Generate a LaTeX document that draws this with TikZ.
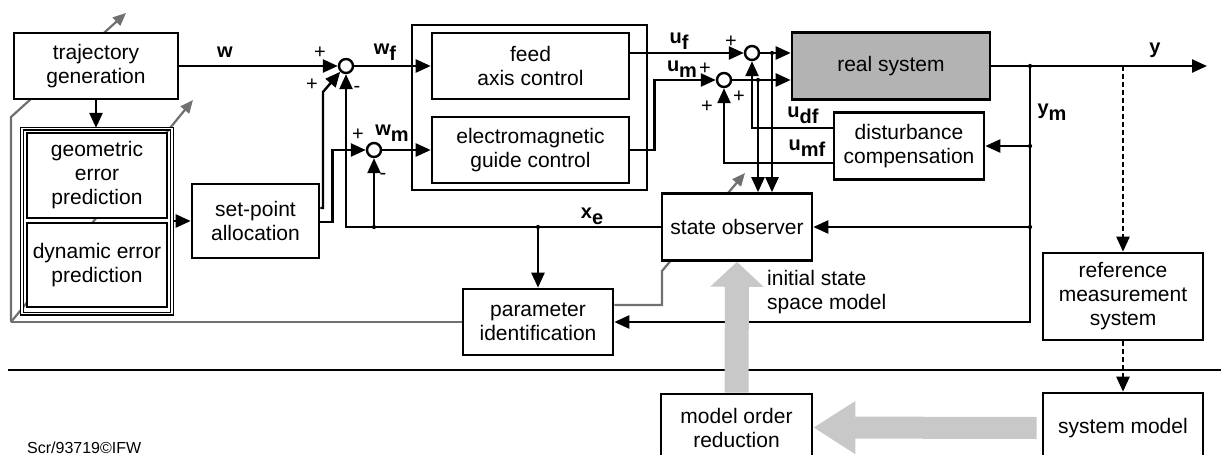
\documentclass[tikz,border=0pt]{standalone}
\usepackage{fontspec}
\setmainfont{Liberation Sans}
\usetikzlibrary{positioning,arrows.meta,calc,backgrounds}
\definecolor{realgray}{HTML}{B3B3B3}
\definecolor{linegray}{HTML}{707070}
\definecolor{biggray}{HTML}{C8C8C8}
\newcommand{\sig}[2]{\textbf{#1\raisebox{-0.3em}{#2}}}

\begin{document}
\begin{tikzpicture}[x=1pt,y=-1pt,
  blk/.style={draw,line width=2.6pt,fill=white,align=center,inner sep=2pt,font=\fontsize{21}{24}\selectfont},
  frm/.style={draw,line width=2.6pt},
  sum/.style={circle,draw,line width=2.4pt,fill=white,minimum size=14pt,inner sep=0pt},
  arr/.style={-{Triangle[length=15pt,width=13pt]},line width=2.4pt},
  dasharr/.style={arr,dash pattern=on 5pt off 3pt},
  garr/.style={-{Triangle[length=13pt,width=11pt]},line width=2.2pt,linegray},
  gline/.style={line width=2.2pt,linegray},
  bigarr/.style={biggray,line width=22pt},
  sg/.style={font=\fontsize{20}{20}\selectfont,inner sep=0pt},
  pm/.style={font=\fontsize{20}{20}\selectfont,inner sep=0pt},
  dot/.style={circle,fill,inner sep=1.5pt}]
  \useasboundingbox (0,0) rectangle (1221,455);

  % blocks
  \node[blk,minimum width=164pt,minimum height=66pt] (traj) at (96,66) {trajectory\\generation};
  \node[draw,double,line width=1.3pt,double distance=1.4pt,minimum width=150pt,minimum height=185pt] (pred) at (97,221) {};
  \node[blk,minimum width=140pt,minimum height=85pt] (geo) at (97,175.5) {geometric\\error\\prediction};
  \node[blk,minimum width=140pt,minimum height=84pt] (dyn) at (97,265) {dynamic error\\prediction};
  \node[blk,minimum width=127pt,minimum height=74pt] (setp) at (255.5,221) {set-point\\allocation};
  \node[frm,minimum width=235pt,minimum height=165pt] (ctrl) at (529.5,107.5) {};
  \node[blk,minimum width=197pt,minimum height=66pt] (feed) at (530.5,66) {feed\\axis control};
  \node[blk,minimum width=197pt,minimum height=66pt] (emg) at (530.5,150) {electromagnetic\\guide control};
  \node[blk,fill=realgray,minimum width=198pt,minimum height=67pt] (real) at (891,66) {real system};
  \node[blk,minimum width=150pt,minimum height=67pt] (dist) at (909,146) {disturbance\\compensation};
  \node[blk,minimum width=150pt,minimum height=67pt] (obs) at (737,227) {state observer};
  \node[blk,minimum width=150pt,minimum height=66pt] (parid) at (538,322) {parameter\\identification};
  \node[blk,minimum width=160pt,minimum height=87pt] (refm) at (1123,296.5) {reference\\measurement\\system};
  \node[blk,minimum width=160pt,minimum height=70pt] (sysm) at (1123,428) {system model};
  \node[blk,minimum width=151pt,minimum height=67pt] (mor) at (736.5,427.5) {model order\\reduction};

  % summing points
  \node[sum] (s1) at (346,66) {};
  \node[sum] (s2) at (374,150) {};
  \node[sum] (s3) at (752,53) {};
  \node[sum] (s4) at (724,80) {};
  \coordinate (j1) at (772,53);
  \coordinate (j2) at (758,80);
  \coordinate (ym) at (1030,66);
  \coordinate (yout) at (1207,66);
  \coordinate (gc) at (11,322);

  % set-point path
  \draw[arr] (traj) -- (s1);
  \draw[arr] (traj.south) -- (traj.south |- pred.north);
  \draw[arr] (pred.east |- setp) -- (setp);
  \draw[arr] ([yshift=13pt]setp.east) -| (323,92) -- (s1.225);
  \draw[arr] ([yshift=-1pt]setp.east) -- ++(12,0) |- (s2);
  \draw[arr] (s1) -- (feed);
  \draw[arr] (s2) -- (emg);
  \draw[arr] ([yshift=13pt]feed.east) -- (s3);
  \draw[arr] (emg.east) -- ++(24,0) |- (s4);
  \draw[arr] (s3) -- (s3 -| real.west);
  \draw[arr] (s4) -- (s4 -| real.west);
  \draw[arr] (j1) -- (j1 |- obs.north);
  \draw[arr] (j2) -- (j2 |- obs.north);
  \node[dot] at (j1) {};
  \node[dot] at (j2) {};
  \draw[arr] ([yshift=18pt]dist.west) -| (s3);
  \draw[arr] ([yshift=-17pt]dist.west) -| (s4);

  % measurement feedback
  \draw[arr] (real) -- (yout);
  \draw[arr] (ym) |- (parid);
  \draw[arr] (ym |- dist) -- (dist);
  \draw[arr] (ym |- obs) -- (obs);
  \node[dot] at (ym) {};
  \node[dot] at (ym |- dist) {};
  \node[dot] at (ym |- obs) {};
  \draw[arr] (obs) -| (s1);
  \draw[arr] (s2 |- obs) -- (s2);
  \draw[arr] (parid |- obs) -- (parid);
  \node[dot] at (parid |- obs) {};
  \node[dot] at (s2 |- obs) {};
  \draw[dasharr] (refm |- real) -- (refm);
  \draw[dasharr] (refm) -- (sysm);

  % separator and model path
  \draw[line width=2pt] (8,370) -- (1221,370);
  \draw[bigarr,-{Triangle[length=42pt,width=50pt]}] ([xshift=-5pt]sysm.west) -- (mor.east);
  \draw[bigarr,line width=24pt,-{Triangle[length=25pt,width=52pt]}] (mor.north) -- (obs.south);

  % adaptation lines
  \begin{scope}[on background layer]
    \draw[gline] (parid) -- (gc);
    \draw[garr] (gc) -- (11,117) -- (126,13);
    \draw[garr] (gc) -- (193,100);
    \draw[garr] ([yshift=17pt]parid.east) -| (662,271) -- (745,173);
  \end{scope}

  % labels
  \node[sg] (lw) at (225,52) {\textbf{w}};
  \node[sg] (lwf) at (385,52) {\sig{w}{f}};
  \node[sg] (lwm) at (392,133) {\sig{w}{m}};
  \node[sg] (luf) at (679,41) {\sig{u}{f}};
  \node[sg] (lum) at (682,69) {\sig{u}{m}};
  \node[sg] (ludf) at (803,115) {\sig{u}{df}};
  \node[sg] (lumf) at (807,148) {\sig{u}{mf}};
  \node[sg] (lxe) at (592,216) {\sig{x}{e}};
  \node[sg] (ly) at (1155,50) {\textbf{y}};
  \node[sg] (lym) at (1052,112) {\sig{y}{m}};
  \node[pm] at (320,53) {+};
  \node[pm] at (312,85) {+};
  \node[pm] at (357,89) {-};
  \node[pm] at (358,135) {+};
  \node[pm] at (383,176) {-};
  \node[pm] at (731,42) {+};
  \node[pm] at (705,69) {+};
  \node[pm] at (707,107) {+};
  \node[pm] at (739,97) {+};
  \node[align=left,anchor=west,font=\fontsize{21}{24}\selectfont,inner sep=0pt] (ini) at (767,292) {initial state\\space model};
  \node[anchor=base west,font=\fontsize{16}{16}\selectfont,inner sep=0pt] (credit) at (27,453) {Scr/93719©IFW};
\end{tikzpicture}
\end{document}
